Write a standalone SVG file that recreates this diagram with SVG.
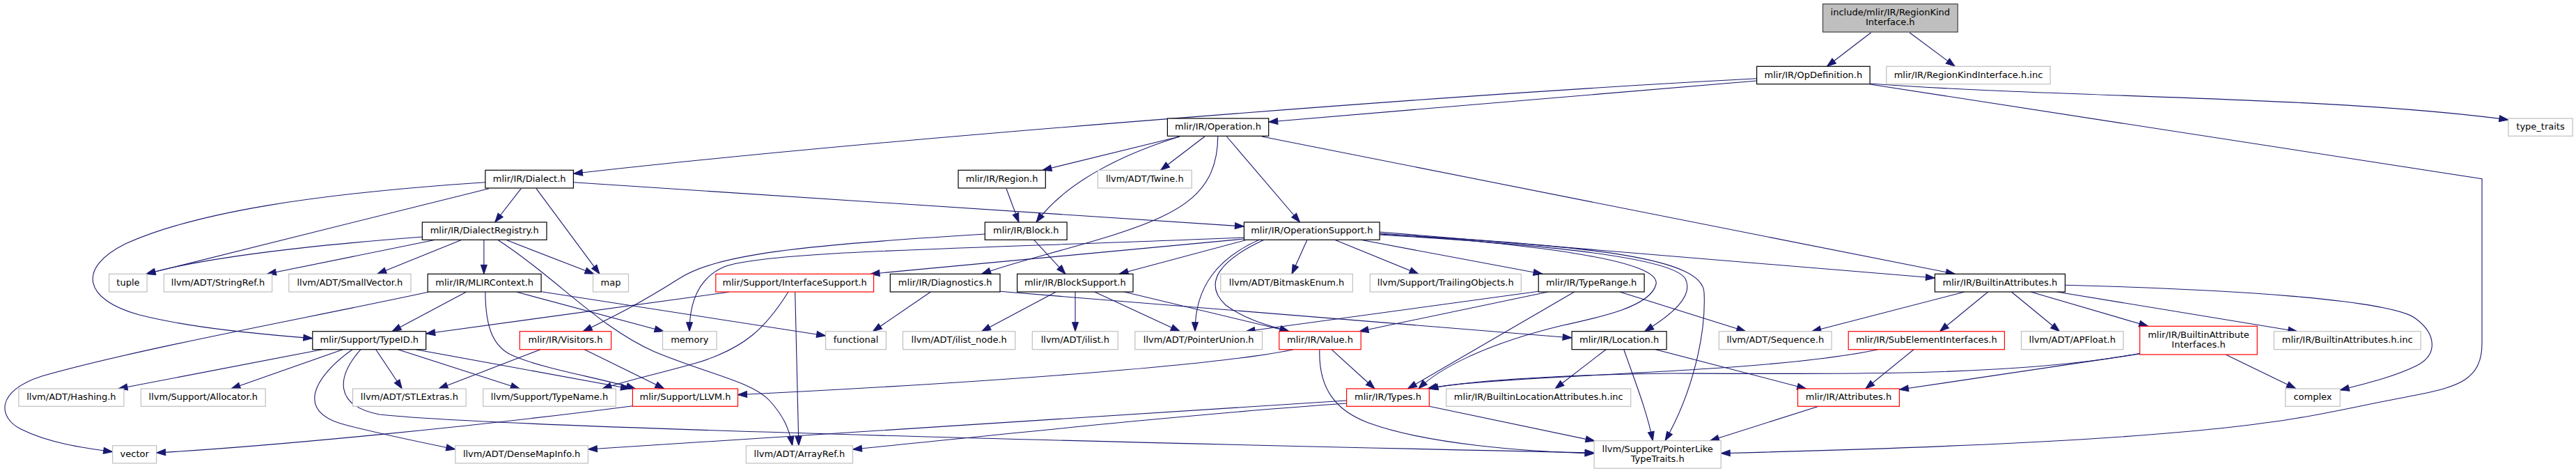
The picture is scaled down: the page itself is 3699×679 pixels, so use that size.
<svg xmlns="http://www.w3.org/2000/svg" width="3699" height="679" viewBox="0 0 3699 679">
<style>
text{font-family:"DejaVu Sans","Liberation Sans",sans-serif;font-size:13px;fill:#000;text-anchor:middle}
.n rect{fill:#fff;stroke:#000;stroke-width:1.2}
.g rect{fill:#fff;stroke:#bfbfbf;stroke-width:1.2}
.r rect{fill:#fff;stroke:#ff0000;stroke-width:1.2}
.root rect{fill:#bfbfbf;stroke:#404040;stroke-width:1.2}
#edges path{fill:none;stroke:#191970;stroke-width:1.1;marker-end:url(#ah)}
</style>
<defs>
<marker id="ah" markerUnits="userSpaceOnUse" markerWidth="14" markerHeight="10" refX="13" refY="4.5" orient="auto" overflow="visible">
<path d="M0,0 L13,4.5 L0,9 z" fill="#191970" stroke="#191970" stroke-width="1"/>
</marker>
</defs>
<rect width="3699" height="679" fill="#fff"/>
<g id="edges">
<path d="M2686.7,46.7 L2623.4,95.3"/>
<path d="M2742,46.7 L2807.3,95.3"/>
<path d="M2522.6,116 L1821.7,175"/>
<path d="M2522.6,112.7 C2150,132 1300,195 823.4,249.3"/>
<path d="M2685.1,120 C2950,140 3350,138 3601.8,172"/>
<path d="M2685.1,121 L3564,256.7 L3564,493 C3564,545 3530,555 3470,567 C3400,580 3350,592 3300,600 C3150,625 2900,640 2471.2,650.7"/>
<path d="M1694,196 L1497,244.3"/>
<path d="M1694,196 C1610,222 1530,262 1488,319"/>
<path d="M1729.8,196 L1666.6,244.3"/>
<path d="M1748.8,196 C1748,275 1700,305 1600,337 C1520,362 1460,375 1409.6,393.3"/>
<path d="M1761.5,196 L1866.6,319"/>
<path d="M1811.9,196 L2807.3,393.3"/>
<path d="M748.3,270.7 L710.7,319"/>
<path d="M770,270.7 L861,393.3"/>
<path d="M702,270.7 L210,393.3"/>
<path d="M696.9,261.7 C450,278 280,305 180,350 C110,385 120,430 200,452 C280,472 380,480 448.8,485.7"/>
<path d="M823.4,261.7 L1786.4,325"/>
<path d="M1445,270.7 L1463,319"/>
<path d="M1484.7,344.3 L1530,393.3"/>
<path d="M1414.3,336 C1150,352 1030,365 975,400 C920,435 880,455 837.2,475.7"/>
<path d="M607,340 C450,352 300,368 210,393.3"/>
<path d="M625,344.3 L383.5,393.3"/>
<path d="M663,344.3 L541.7,393.3"/>
<path d="M694.9,344.3 L694.9,393.3"/>
<path d="M726.5,344.3 L853,393.3"/>
<path d="M714.7,344.3 C800,400 860,470 940,505 C1020,538 1080,548 1105,575 C1125,597 1133,615 1137.8,639.7"/>
<path d="M669.2,419.3 L563,475.7"/>
<path d="M1046.8,419.3 L611.7,479"/>
<path d="M742.3,419.3 L953,475.7"/>
<path d="M776,418.5 L1185.6,482"/>
<path d="M696.9,419.3 C697,470 708,500 740,512 C790,532 860,542 912.4,558"/>
<path d="M614.9,419.3 C450,455 200,500 60,540 C-8,562 -2,600 30,616 C70,636 120,643 161.7,648.5"/>
<path d="M462.6,501.7 L170,558"/>
<path d="M492.3,501.7 L332,558"/>
<path d="M539.7,501.7 L577.3,558"/>
<path d="M518,501.7 C484,540 478,582 545,595 C700,612 1500,633 2289.1,650"/>
<path d="M506,501.7 C452,540 420,592 500,611 C560,626 610,636 653.8,645"/>
<path d="M571.4,501.7 L746.3,558"/>
<path d="M597,501.7 L904.5,558"/>
<path d="M776,501.7 L630,558"/>
<path d="M839.2,501.7 L953.9,558"/>
<path d="M1131.8,419.3 C1100,470 1070,500 1000,521 C940,538 900,546 865,558"/>
<path d="M1141.7,419.3 L1146.9,639.7"/>
<path d="M1786.4,343 L1250,393.3"/>
<path d="M1786.4,341 C1400,357 1100,360 1040,383 C1000,400 990,440 990,475.7"/>
<path d="M1790,344.3 L1607,393.3"/>
<path d="M1877,344.3 L1855,393.3"/>
<path d="M1916.6,344.3 L2037,393.3"/>
<path d="M1954,344.3 L2215,393.3"/>
<path d="M1808,344.3 C1750,370 1716,410 1716,475.7"/>
<path d="M1815,344.3 C1755,372 1725,405 1760,438 C1790,460 1825,468 1851,475.7"/>
<path d="M1981.1,337 C2200,350 2400,368 2420,400 C2433,425 2400,452 2361.5,475.7"/>
<path d="M1981.1,333 L2778.4,399"/>
<path d="M1981.1,335 C2220,352 2385,375 2378,408 C2370,440 2300,455 2240,468 C2130,495 2065,530 2037,558"/>
<path d="M1981.1,336 C2300,353 2445,372 2447,420 C2450,480 2430,565 2391,632.7"/>
<path d="M1516.3,419 L1409.6,475.7"/>
<path d="M1544,419 L1544,475.7"/>
<path d="M1571.7,419 L1694.3,475.7"/>
<path d="M1614.3,419 L1851,475.7"/>
<path d="M1336.4,419 L1253.4,475.7"/>
<path d="M1436,418.3 L2257.1,485"/>
<path d="M2209.2,418.3 L1789,475.7"/>
<path d="M2223,419 L1952,475.7"/>
<path d="M2260.7,419 L2021.4,558"/>
<path d="M2325.9,419 L2506.8,475.7"/>
<path d="M1912,501.7 L1974,558"/>
<path d="M1894.9,501.7 C1893,560 1920,590 1965,607 C2050,638 2190,648 2289.1,651"/>
<path d="M1857,501.7 C1750,525 1400,550 1059.5,566.7"/>
<path d="M1933.6,575 C1700,590 1200,622 844.4,645"/>
<path d="M1933.6,579 C1700,595 1400,628 1224.5,645"/>
<path d="M2052.3,583.3 L2290,633"/>
<path d="M2306,501.7 L2233,558"/>
<path d="M2331.8,501.7 C2345,540 2365,590 2373.3,632.7"/>
<path d="M2377.3,501.7 L2593.7,558"/>
<path d="M2821,419 L2601.7,475.7"/>
<path d="M2854.7,419 L2785.5,475.7"/>
<path d="M2888.3,419 L2957.5,475.7"/>
<path d="M2916,419 L3084.7,468.3"/>
<path d="M2953.6,419 L3298.7,475.7"/>
<path d="M2965.4,409.3 C3200,415 3430,430 3468,456.7 C3500,480 3500,510 3470,525 C3440,540 3400,550 3360.2,560"/>
<path d="M2748,501.7 L2678.8,558"/>
<path d="M2696.6,501.7 C2600,522 2450,530 2300,538 C2150,546 2080,551 2050,558"/>
<path d="M3072.7,507.3 C2900,540 2650,537 2400,536 C2220,538 2100,548 2052,558"/>
<path d="M3072.7,508 L2727.4,559.3"/>
<path d="M3196,509 L3296.5,557.7"/>
<path d="M2611.5,583.3 L2455.4,632.7"/>
<path d="M908.4,582.7 C700,610 400,640 224.6,650"/>
</g>
<g id="node-root" class="root"><rect x="2617.5" y="5.7" width="193.7" height="40.3"/><text x="2714.3" y="21.6">include/mlir/IR/RegionKind</text><text x="2714.3" y="36.4">Interface.h</text></g>
<g id="node-opdef" class="n"><rect x="2522.6" y="95.3" width="162.5" height="25.4"/><text x="2603.9" y="111.5">mlir/IR/OpDefinition.h</text></g>
<g id="node-rkinc" class="g"><rect x="2708.8" y="95.3" width="235.3" height="25.4"/><text x="2826.5" y="111.5">mlir/IR/RegionKindInterface.h.inc</text></g>
<g id="node-operation" class="n"><rect x="1676.4" y="170" width="145.3" height="25.3"/><text x="1749" y="186.2">mlir/IR/Operation.h</text></g>
<g id="node-typetraits" class="g"><rect x="3601.8" y="170" width="92.3" height="25.3"/><text x="3648" y="186.2">type_traits</text></g>
<g id="node-dialect" class="n"><rect x="696.9" y="244.3" width="126.5" height="25.7"/><text x="760.2" y="260.6">mlir/IR/Dialect.h</text></g>
<g id="node-region" class="n"><rect x="1376" y="244.3" width="125.3" height="25.7"/><text x="1438.6" y="260.6">mlir/IR/Region.h</text></g>
<g id="node-twine" class="g"><rect x="1576.4" y="244.3" width="134.8" height="25.7"/><text x="1643.8" y="260.6">llvm/ADT/Twine.h</text></g>
<g id="node-dialectregistry" class="n"><rect x="606.3" y="319" width="178.7" height="25.3"/><text x="695.7" y="335.2">mlir/IR/DialectRegistry.h</text></g>
<g id="node-block" class="n"><rect x="1414.3" y="319" width="117.8" height="25.3"/><text x="1473.2" y="335.2">mlir/IR/Block.h</text></g>
<g id="node-opsupport" class="n"><rect x="1786.4" y="319" width="194.7" height="25.3"/><text x="1883.8" y="335.2">mlir/IR/OperationSupport.h</text></g>
<g id="node-tuple" class="g"><rect x="156.6" y="393.3" width="54.5" height="25.7"/><text x="183.9" y="409.6">tuple</text></g>
<g id="node-stringref" class="g"><rect x="235.3" y="393.3" width="155.4" height="25.7"/><text x="313" y="409.6">llvm/ADT/StringRef.h</text></g>
<g id="node-smallvector" class="g"><rect x="414.8" y="393.3" width="175.2" height="25.7"/><text x="502.4" y="409.6">llvm/ADT/SmallVector.h</text></g>
<g id="node-mlircontext" class="n"><rect x="614.2" y="393.3" width="162.9" height="25.7"/><text x="695.7" y="409.6">mlir/IR/MLIRContext.h</text></g>
<g id="node-map" class="g"><rect x="851.5" y="393.3" width="51" height="25.7"/><text x="877" y="409.6">map</text></g>
<g id="node-interfacesupport" class="r"><rect x="1027.8" y="393.3" width="226.8" height="25.7"/><text x="1141.2" y="409.6">mlir/Support/InterfaceSupport.h</text></g>
<g id="node-diagnostics" class="n"><rect x="1278.3" y="393.3" width="157.7" height="25.7"/><text x="1357.2" y="409.6">mlir/IR/Diagnostics.h</text></g>
<g id="node-blocksupport" class="n"><rect x="1460.6" y="393.3" width="166.4" height="25.7"/><text x="1543.8" y="409.6">mlir/IR/BlockSupport.h</text></g>
<g id="node-bitmaskenum" class="g"><rect x="1752.8" y="393.3" width="189.5" height="25.7"/><text x="1847.6" y="409.6">llvm/ADT/BitmaskEnum.h</text></g>
<g id="node-trailingobjects" class="g"><rect x="1967.3" y="393.3" width="217" height="25.7"/><text x="2075.8" y="409.6">llvm/Support/TrailingObjects.h</text></g>
<g id="node-typerange" class="n"><rect x="2209.2" y="393.3" width="151.9" height="25.7"/><text x="2285.2" y="409.6">mlir/IR/TypeRange.h</text></g>
<g id="node-builtinattributes" class="n"><rect x="2778.4" y="393.3" width="187" height="25.7"/><text x="2871.9" y="409.6">mlir/IR/BuiltinAttributes.h</text></g>
<g id="node-typeid" class="n"><rect x="448.8" y="475.7" width="162.9" height="26"/><text x="530.3" y="492.2">mlir/Support/TypeID.h</text></g>
<g id="node-visitors" class="r"><rect x="746.3" y="475.7" width="131.3" height="26"/><text x="812" y="492.2">mlir/IR/Visitors.h</text></g>
<g id="node-memory" class="g"><rect x="951.5" y="475.7" width="77.5" height="26"/><text x="990.3" y="492.2">memory</text></g>
<g id="node-functional" class="g"><rect x="1185.6" y="475.7" width="86.8" height="26"/><text x="1229" y="492.2">functional</text></g>
<g id="node-ilistnode" class="g"><rect x="1296.5" y="475.7" width="161.3" height="26"/><text x="1377.2" y="492.2">llvm/ADT/ilist_node.h</text></g>
<g id="node-ilist" class="g"><rect x="1482.3" y="475.7" width="123" height="26"/><text x="1543.8" y="492.2">llvm/ADT/ilist.h</text></g>
<g id="node-pointerunion" class="g"><rect x="1629.8" y="475.7" width="182.7" height="26"/><text x="1721.2" y="492.2">llvm/ADT/PointerUnion.h</text></g>
<g id="node-value" class="r"><rect x="1836.8" y="475.7" width="117.4" height="26"/><text x="1895.5" y="492.2">mlir/IR/Value.h</text></g>
<g id="node-location" class="n"><rect x="2257.1" y="475.7" width="136" height="26"/><text x="2325.1" y="492.2">mlir/IR/Location.h</text></g>
<g id="node-sequence" class="g"><rect x="2468.4" y="475.7" width="161.7" height="26"/><text x="2549.3" y="492.2">llvm/ADT/Sequence.h</text></g>
<g id="node-subelement" class="r"><rect x="2654.2" y="475.7" width="224.2" height="26"/><text x="2766.3" y="492.2">mlir/IR/SubElementInterfaces.h</text></g>
<g id="node-apfloat" class="g"><rect x="2902.5" y="475.7" width="146.5" height="26"/><text x="2975.8" y="492.2">llvm/ADT/APFloat.h</text></g>
<g id="node-builtinattrinterfaces" class="r"><rect x="3072.7" y="468.3" width="168.5" height="40.7"/><text x="3157" y="484.7">mlir/IR/BuiltinAttribute</text><text x="3157" y="499.2">Interfaces.h</text></g>
<g id="node-builtinattrinc" class="g"><rect x="3265.3" y="475.7" width="210.8" height="26"/><text x="3370.7" y="492.2">mlir/IR/BuiltinAttributes.h.inc</text></g>
<g id="node-hashing" class="g"><rect x="26.9" y="558" width="151" height="25.3"/><text x="102.4" y="574.2">llvm/ADT/Hashing.h</text></g>
<g id="node-allocator" class="g"><rect x="202.4" y="558" width="178.8" height="25.3"/><text x="291.8" y="574.2">llvm/Support/Allocator.h</text></g>
<g id="node-stlextras" class="g"><rect x="506.5" y="558" width="162.7" height="25.3"/><text x="587.9" y="574.2">llvm/ADT/STLExtras.h</text></g>
<g id="node-typename" class="g"><rect x="693.7" y="558" width="190.6" height="25.3"/><text x="789" y="574.2">llvm/Support/TypeName.h</text></g>
<g id="node-llvmh" class="r"><rect x="908.4" y="558" width="151.1" height="25.3"/><text x="984" y="574.2">mlir/Support/LLVM.h</text></g>
<g id="node-types" class="r"><rect x="1933.6" y="558" width="118.7" height="25.3"/><text x="1993" y="574.2">mlir/IR/Types.h</text></g>
<g id="node-builtinlocattrs" class="g"><rect x="2076.8" y="558" width="264.9" height="25.3"/><text x="2209.3" y="574.2">mlir/IR/BuiltinLocationAttributes.h.inc</text></g>
<g id="node-attributes" class="r"><rect x="2581.5" y="558" width="145.9" height="25.3"/><text x="2654.5" y="574.2">mlir/IR/Attributes.h</text></g>
<g id="node-complex" class="g"><rect x="3281.7" y="558" width="78.5" height="25.3"/><text x="3321" y="574.2">complex</text></g>
<g id="node-vector" class="g"><rect x="161.7" y="639.7" width="62.9" height="25.3"/><text x="193.2" y="655.9">vector</text></g>
<g id="node-densemapinfo" class="g"><rect x="653.8" y="639.7" width="190.6" height="25.3"/><text x="749.1" y="655.9">llvm/ADT/DenseMapInfo.h</text></g>
<g id="node-arrayref" class="g"><rect x="1071.3" y="639.7" width="153.2" height="25.3"/><text x="1147.9" y="655.9">llvm/ADT/ArrayRef.h</text></g>
<g id="node-pointerliketypetraits" class="g"><rect x="2289.1" y="632.7" width="182.1" height="39.6"/><text x="2380.2" y="648.5">llvm/Support/PointerLike</text><text x="2380.2" y="663">TypeTraits.h</text></g>
</svg>
